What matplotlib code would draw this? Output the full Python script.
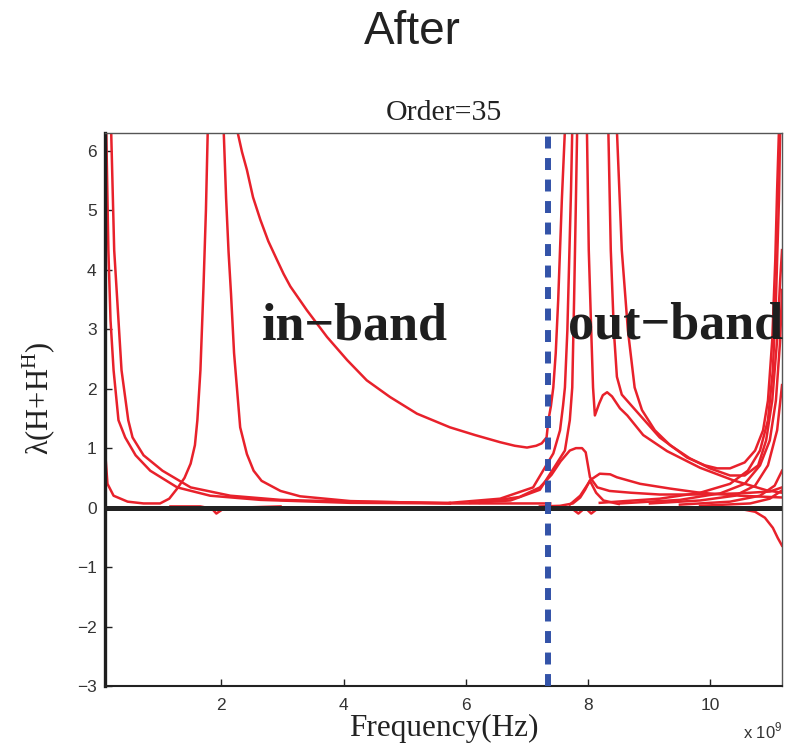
import matplotlib
matplotlib.use('Agg')
import matplotlib.pyplot as plt

plt.rcParams['font.family'] = 'Liberation Sans'
plt.rcParams['mathtext.fontset'] = 'custom'
plt.rcParams['mathtext.rm'] = 'Liberation Serif'
plt.rcParams['mathtext.sf'] = 'Liberation Sans'

# eigenvalue branches, frequency in GHz (axis shows x 10^9)
freq_a = [2.26, 2.34, 2.42, 2.52, 2.64, 2.77, 2.91, 3.02, 3.13, 3.40, 3.73, 4.06, 4.38, 4.76, 5.20, 5.74, 6.15, 6.56, 6.80, 7.00, 7.15, 7.24, 7.32, 7.35, 7.39, 7.43, 7.47, 7.51, 7.57, 7.62]
lam_a = [6.35, 5.98, 5.68, 5.22, 4.84, 4.48, 4.17, 3.93, 3.72, 3.32, 2.87, 2.48, 2.14, 1.86, 1.58, 1.35, 1.22, 1.10, 1.04, 1.01, 1.04, 1.08, 1.18, 1.47, 1.70, 2.02, 2.60, 3.49, 5.18, 6.35]

freq_b = [0.106, 0.14, 0.24, 0.47, 0.73, 1.00, 1.15, 1.28, 1.40, 1.50, 1.57, 1.61, 1.66, 1.71, 1.75, 1.78]
lam_b = [0.88, 0.40, 0.20, 0.10, 0.07, 0.07, 0.15, 0.32, 0.50, 0.74, 1.05, 1.47, 2.31, 3.71, 5.00, 6.35]

freq_c = [2.04, 2.08, 2.12, 2.16, 2.21, 2.31, 2.42, 2.53, 2.66, 2.97, 3.29, 4.11, 5.74]
lam_c = [6.35, 5.20, 4.30, 3.60, 2.60, 1.35, 0.90, 0.62, 0.45, 0.28, 0.19, 0.11, 0.07]

freq_n = [0.12, 0.155, 0.19, 0.24, 0.32, 0.43, 0.60, 0.84, 1.28, 1.82, 2.64, 4.11, 5.74, 7.38]
lam_n = [6.35, 4.33, 3.15, 2.31, 1.47, 1.18, 0.88, 0.62, 0.34, 0.20, 0.13, 0.08, 0.07, 0.07]

freq_o = [0.20, 0.25, 0.32, 0.37, 0.48, 0.55, 0.73, 1.04, 1.50, 2.15, 2.97, 4.11, 5.74]
lam_o = [6.35, 4.33, 3.15, 2.31, 1.47, 1.18, 0.88, 0.62, 0.34, 0.20, 0.13, 0.10, 0.08]

freq_d = [5.74, 6.56, 7.10, 7.43, 7.54, 7.59, 7.62, 7.66, 7.69, 7.72, 7.74]
lam_d = [0.08, 0.15, 0.34, 0.91, 1.30, 1.72, 2.02, 2.98, 4.17, 5.35, 6.35]

freq_e = [6.07, 6.73, 7.21, 7.46, 7.62, 7.70, 7.74, 7.77, 7.80, 7.82]
lam_e = [0.08, 0.12, 0.30, 0.70, 0.96, 1.47, 2.02, 3.49, 5.18, 6.35]

freq_i = [6.23, 6.88, 7.21, 7.40, 7.55, 7.70, 7.80, 7.90, 7.96, 8.03, 8.15, 8.35, 8.70, 9.17, 9.83, 10.48, 10.97, 11.17]
lam_i = [0.08, 0.18, 0.34, 0.55, 0.78, 0.96, 1.00, 1.00, 0.93, 0.51, 0.34, 0.28, 0.25, 0.22, 0.22, 0.24, 0.27, 0.34]

freq_f = [7.98, 8.01, 8.05, 8.08, 8.11, 8.18, 8.24, 8.31, 8.39, 8.52, 8.64, 8.90, 9.29, 9.83, 10.37, 10.92, 11.17]
lam_f = [6.35, 4.33, 2.98, 2.02, 1.55, 1.75, 1.89, 1.94, 1.87, 1.67, 1.55, 1.22, 0.95, 0.67, 0.46, 0.29, 0.25]

freq_g = [8.33, 8.37, 8.42, 8.47, 8.55, 8.73, 9.17, 9.62, 9.91, 10.11, 10.32, 10.56, 10.73, 10.86, 10.94, 11.01, 11.06, 11.09, 11.12]
lam_g = [6.35, 4.33, 2.98, 2.20, 1.90, 1.69, 1.18, 0.84, 0.71, 0.66, 0.66, 0.76, 0.96, 1.30, 1.80, 2.82, 4.17, 5.35, 6.35]

freq_h = [8.47, 8.55, 8.65, 8.76, 8.88, 9.09, 9.34, 9.66, 9.99, 10.32, 10.56, 10.78, 10.91, 11.01, 11.09, 11.14, 11.17]
lam_h = [6.35, 4.33, 2.98, 2.02, 1.64, 1.30, 1.05, 0.83, 0.66, 0.54, 0.54, 0.71, 1.13, 1.80, 2.82, 3.83, 4.33]

freq_k = [8.19, 9.17, 9.83, 10.32, 10.61, 10.81, 10.94, 11.02, 11.07, 11.12, 11.14]
lam_k = [0.08, 0.15, 0.25, 0.40, 0.62, 0.96, 1.47, 2.31, 3.49, 5.18, 6.35]

freq_l = [8.52, 9.50, 10.16, 10.56, 10.81, 10.97, 11.07, 11.14, 11.17]
lam_l = [0.07, 0.13, 0.24, 0.40, 0.71, 1.13, 1.80, 2.82, 3.66]

freq_m = [9.01, 9.83, 10.40, 10.73, 10.94, 11.09, 11.17]
lam_m = [0.07, 0.12, 0.20, 0.37, 0.71, 1.30, 2.06]

freq_q = [9.50, 10.32, 10.81, 11.05, 11.17]
lam_q = [0.05, 0.10, 0.20, 0.37, 0.62]

freq_q2 = [9.83, 10.65, 10.97, 11.17]
lam_q2 = [0.03, 0.07, 0.15, 0.29]

freq_j = [7.21, 7.54, 7.75, 7.87, 7.95, 8.03, 8.19, 8.36, 8.47, 8.85, 9.34, 9.83, 10.48, 11.17]
lam_j = [0.02, 0.03, 0.07, 0.17, 0.30, 0.46, 0.57, 0.56, 0.51, 0.40, 0.32, 0.25, 0.20, 0.17]

freq_j2 = [7.70, 7.87, 8.03, 8.13, 8.25, 8.50]
lam_j2 = [0.05, 0.20, 0.45, 0.25, 0.12, 0.06]

freq_r1 = [1.17, 1.66, 1.85, 1.92, 2.02, 2.31, 2.97]
lam_r1 = [0.02, 0.02, -0.02, -0.10, -0.03, 0.0, 0.02]

freq_r2 = [7.54, 7.74, 7.84, 7.92, 7.98, 8.05, 8.15, 8.36]
lam_r2 = [0.0, -0.02, -0.10, -0.03, -0.03, -0.10, -0.02, 0.0]

freq_r3 = [10.07, 10.48, 10.73, 10.89, 11.02, 11.10, 11.17]
lam_r3 = [0.0, -0.02, -0.07, -0.17, -0.34, -0.51, -0.64]

branches = [(freq_a, lam_a), (freq_b, lam_b), (freq_c, lam_c), (freq_n, lam_n),
            (freq_o, lam_o), (freq_d, lam_d), (freq_e, lam_e), (freq_i, lam_i),
            (freq_f, lam_f), (freq_g, lam_g), (freq_h, lam_h), (freq_k, lam_k),
            (freq_l, lam_l), (freq_m, lam_m), (freq_q, lam_q), (freq_q2, lam_q2),
            (freq_j, lam_j), (freq_j2, lam_j2), (freq_r1, lam_r1),
            (freq_r2, lam_r2), (freq_r3, lam_r3)]

band_edge = 7.34
x_ticks = [2, 4, 6, 8, 10]
y_ticks = [-3, -2, -1, 0, 1, 2, 3, 4, 5, 6]

fig = plt.figure(figsize=(7.92, 7.45), dpi=100)
fig.text(0.521, 1 - 32 / 745, 'After', ha='center', va='center',
         fontsize=33, color='#222222')

ax = fig.add_axes([0.1326, 0.0792, 0.8548, 0.7423])

for fr, lam in branches:
    ax.plot(fr, lam, color='#e8212b', lw=1.8, solid_joinstyle='round')

ax.axhline(0, color='#222222', lw=3.6, zorder=3)
ax.axvline(band_edge, color='#3353a8', lw=4.3, dashes=(2.0, 1.6),
           dash_capstyle='butt', zorder=4)

ax.text(2.67, 2.82, 'in\u2212band', fontsize=37.5, fontweight='bold',
        family='Liberation Serif', color='#1e1e1e', va='baseline')
ax.text(7.67, 2.85, 'out\u2212band', fontsize=37.5, fontweight='bold',
        family='Liberation Serif', color='#1e1e1e', va='baseline', clip_on=False)

ax.set_xlim(0.1, 11.17)
ax.set_ylim(-3, 6.3)
ax.set_xticks(x_ticks)
ax.set_yticks(y_ticks)
ax.tick_params(direction='in', length=5, width=1, labelsize=12.5,
               labelcolor='#333333', color='#222222')
ax.tick_params(axis='x', pad=9)
ax.tick_params(axis='y', pad=6)

ax.set_title('Order=35', family='Liberation Serif', fontsize=21.5,
             color='#222222', pad=9)
ax.set_xlabel('Frequency(Hz)', family='Liberation Serif', fontsize=22.5,
              color='#222222')
ax.xaxis.set_label_coords(0.5, -0.05)
ax.set_ylabel('\u03bb(H+H$^{\\mathrm{H}}$)', family='Liberation Serif',
              fontsize=22, color='#222222')
ax.yaxis.set_label_coords(-0.07, 0.52)
ax.text(1.0, -0.095, 'x 10$^{\\mathsf{9}}$', transform=ax.transAxes,
        ha='right', va='baseline', fontsize=12, color='#333333')

ax.spines['left'].set_linewidth(2.4)
ax.spines['left'].set_color('#1e1e1e')
ax.spines['bottom'].set_linewidth(1.5)
ax.spines['bottom'].set_color('#222222')
for side in ['top', 'right']:
    ax.spines[side].set_linewidth(1.0)
    ax.spines[side].set_color('#555555')

fig.savefig('out.png', dpi=100)
